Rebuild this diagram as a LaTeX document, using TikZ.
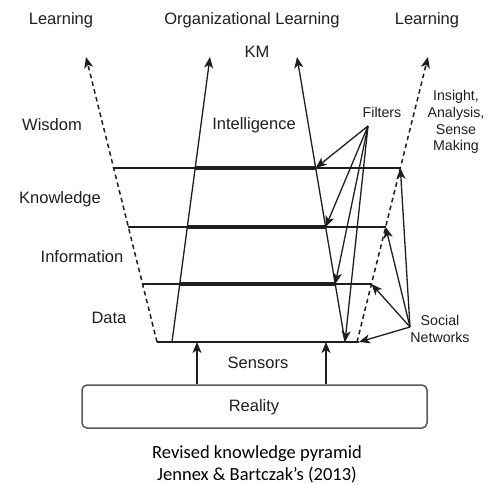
\documentclass[tikz,border=0pt]{standalone}
\usepackage{fontspec}
\setmainfont{Liberation Sans}
\newfontfamily\capfont{Carlito}
\usetikzlibrary{arrows.meta,calc}
\definecolor{ink}{HTML}{1E1E1E}
\begin{document}
\begin{tikzpicture}[x=1pt,y=-1pt,
  lbl/.style={font=\fontsize{16.5}{19}\selectfont, text=ink, inner sep=0pt},
  smalllbl/.style={font=\fontsize{14.2}{16.7}\selectfont, text=ink, inner sep=0pt, align=center},
  caplbl/.style={font=\capfont\fontsize{18.5}{21}\selectfont, text=black, inner sep=0pt},
  arr/.style={-{Stealth[length=11pt,width=9pt,inset=3pt]}, line width=1.3pt, draw=ink},
  dsh/.style={arr, line width=1.5pt, dash pattern=on 4.5pt off 3.5pt},
  thinline/.style={line width=1.3pt, draw=ink},
  thickline/.style={line width=3.3pt, draw=ink},
  boxstyle/.style={draw=black!65, line width=1.5pt, rounded corners=5pt, minimum width=345pt, minimum height=43pt, inner sep=0pt}
]
\useasboundingbox (0,0) rectangle (496,484);

% main axes
\coordinate (dlb) at (157,342); \coordinate (dlt) at (86,57);
\coordinate (slb) at (172,342); \coordinate (slt) at (210,57);
\coordinate (srb) at (345,342); \coordinate (srt) at (297,57);
\coordinate (drb) at (357,342); \coordinate (drt) at (428,57);

% level points
\foreach \n/\t in {1/0.6105,2/0.4035,3/0.2035}{
  \coordinate (dl\n) at ($(dlb)!\t!(dlt)$);
  \coordinate (sl\n) at ($(slb)!\t!(slt)$);
  \coordinate (sr\n) at ($(srb)!\t!(srt)$);
  \coordinate (dr\n) at ($(drb)!\t!(drt)$);
}
\coordinate (dr4) at (359,342);

% horizontal levels
\foreach \n in {1,2,3}{
  \draw[thinline] (dl\n) -- (dr\n);
  \draw[thickline] (sl\n) -- (sr\n);
}
\draw[thinline] (dlb) -- (dr4);

% vertical arrows
\draw[dsh] (dlb) -- (dlt);
\draw[arr] (slb) -- (slt);
\draw[arr] (srb) -- (srt);
\draw[dsh] (drb) -- (drt);

% labels
\node[lbl] (l1) at (61,20) {Learning};
\node[lbl] (l2) at (252,20) {Organizational Learning};
\node[lbl] (l3) at (427,20) {Learning};
\node[lbl] (km) at (257,52) {KM};
\node[lbl] (wis) at (52,125) {Wisdom};
\node[lbl] (int) at (254,125) {Intelligence};
\node[lbl] (kno) at (60,199) {Knowledge};
\node[lbl] (inf) at (82,257) {Information};
\node[lbl] (dat) at (109,318) {Data};
\node[smalllbl] (fil) at (382,112) {Filters};
\node[smalllbl] (ins) at (456,122) {Insight,\\Analysis,\\Sense\\Making};
\node[smalllbl] (soc) at (440,329) {Social\\Networks};
\node[lbl] (sen) at (258,363) {Sensors};

% filters arrows
\coordinate (fo) at (368,126);
\foreach \n in {1,2,3}{ \draw[arr] (fo) -- (sr\n); }
\draw[arr] (fo) -- (srb);

% social network arrows
\coordinate (so) at (410,327);
\foreach \n in {1,2,3,4}{ \draw[arr] (so) -- (dr\n); }

% reality
\node[boxstyle] (real) at (254.5,406.5) {};
\node[lbl] (realt) at (254,407) {Reality};
\draw[arr] (real.north -| 197,0) -- (197,342);
\draw[arr] (real.north -| 326,0) -- (326,342);

% caption
\node[caplbl] (c1) at (257,454) {Revised knowledge pyramid};
\node[caplbl] (c2) at (257,475) {Jennex \& Bartczak’s (2013)};
\end{tikzpicture}
\end{document}
